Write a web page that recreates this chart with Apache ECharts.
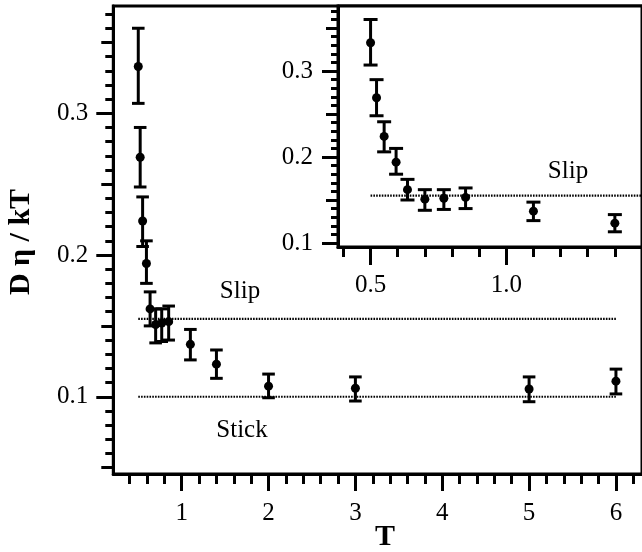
<!DOCTYPE html>
<html><head><meta charset="utf-8">
<script src="https://cdn.jsdelivr.net/npm/echarts@6/dist/echarts.min.js"></script>
<style>html,body{margin:0;padding:0;background:#fff}#c{width:642px;height:552px}</style>
</head><body><div id="c"></div>
<script>
// ---- data ----
const temperature = [0.5, 0.522, 0.55, 0.594, 0.636, 0.70, 0.77, 0.85, 1.10, 1.40, 2.0, 3.0, 5.0, 6.0];
const diffusion   = [0.333, 0.269, 0.224, 0.194, 0.162, 0.151, 0.152, 0.153, 0.137, 0.123, 0.1075, 0.106, 0.1055, 0.111];
const errLow      = [0.307, 0.248, 0.206, 0.180, 0.150, 0.138, 0.139, 0.140, 0.126, 0.113, 0.0993, 0.097, 0.0965, 0.102];
const errHigh     = [0.360, 0.290, 0.241, 0.210, 0.174, 0.162, 0.162, 0.164, 0.1475, 0.133, 0.116, 0.114, 0.114, 0.1195];
const slipLevel = 0.155;
const stickLevel = 0.1;
const mainRefT = [0.5, 6.0];
const insetRefT = [0.5, 1.5];
// ---- ticks ----
const mainXMajor = [1, 2, 3, 4, 5, 6];
const mainXMinor = [0.4, 0.6, 0.8, 1.2, 1.4, 1.6, 1.8, 2.2, 2.4, 2.6, 2.8, 3.2, 3.4, 3.6, 3.8, 4.2, 4.4, 4.6, 4.8, 5.2, 5.4, 5.6, 5.8, 6.2];
const mainYMajor = [0.1, 0.2, 0.3];
const mainYMedium = [0.05, 0.15, 0.25, 0.35];
const mainYMinor = [0.06, 0.07, 0.08, 0.09, 0.11, 0.12, 0.13, 0.14, 0.16, 0.17, 0.18, 0.19, 0.21, 0.22, 0.23, 0.24, 0.26, 0.27, 0.28, 0.29, 0.31, 0.32, 0.33, 0.34, 0.36, 0.37];
const insetXMajor = [0.5, 1.0];
const insetXMinor = [0.4, 0.6, 0.7, 0.8, 0.9, 1.1, 1.2, 1.3, 1.4];
const insetYMajor = [0.1, 0.2, 0.3];
const insetYMedium = [0.15, 0.25, 0.35];
const insetYMinor = [0.11, 0.12, 0.13, 0.14, 0.16, 0.17, 0.18, 0.19, 0.21, 0.22, 0.23, 0.24, 0.26, 0.27, 0.28, 0.29, 0.31, 0.32, 0.33, 0.34, 0.36, 0.37];
const mainXLabelDigits = 0, mainYLabelDigits = 1, insetXLabelDigits = 1, insetYLabelDigits = 1;

const mainXRange = [0.2125, 6.3];
const mainYRange = [0.0455, 0.3757];
const insetXRange = [0.38, 1.5];
const insetYRange = [0.0953, 0.3757];

const serif = '"Liberation Serif", "Times New Roman", serif';

function axis(gridIndex, range, ticks, len, labels, margin, digits, showLine) {
  return {
    type: 'value', gridIndex, min: range[0], max: range[1],
    axisLine: { show: showLine, onZero: false, lineStyle: { color: '#000', width: 3 } },
    axisTick: { show: true, inside: false, customValues: ticks, length: len, lineStyle: { color: '#000', width: 3 } },
    axisLabel: labels ? { show: true, customValues: labels, margin: margin, color: '#000', fontFamily: serif, fontSize: 25,
      formatter: v => Number(v).toFixed(digits) } : { show: false },
    splitLine: { show: false }
  };
}

const mainGrid = { left: 113.3, top: 6, width: 535.7, height: 468 };
const insetGrid = { left: 338, top: 6, width: 305.7, height: 241 };
const grids = [];
for (let i = 0; i < 3; i++) grids.push(Object.assign({}, mainGrid, i === 0 ? { show: true, borderColor: '#000', borderWidth: 3, backgroundColor: 'transparent' } : {}));
for (let i = 0; i < 3; i++) grids.push(Object.assign({}, insetGrid, i === 0 ? { show: true, borderColor: '#000', borderWidth: 3, backgroundColor: '#fff' } : {}));

const xAxes = [
  axis(0, mainXRange, mainXMajor, 17, mainXMajor, 27, mainXLabelDigits, true),
  axis(1, mainXRange, mainXMinor, 10, null, 0, 0, false),
  axis(2, mainXRange, [], 0, null, 0, 0, false),
  axis(3, insetXRange, insetXMajor, 18, insetXMajor, 26, insetXLabelDigits, true),
  axis(4, insetXRange, insetXMinor, 10, null, 0, 0, false),
  axis(5, insetXRange, [], 0, null, 0, 0, false)
];
const yAxes = [
  axis(0, mainYRange, mainYMajor, 17, mainYMajor, 25, mainYLabelDigits, true),
  axis(1, mainYRange, mainYMedium, 12, null, 0, 0, false),
  axis(2, mainYRange, mainYMinor, 8, null, 0, 0, false),
  axis(3, insetYRange, insetYMajor, 16, insetYMajor, 25, insetYLabelDigits, true),
  axis(4, insetYRange, insetYMedium, 12, null, 0, 0, false),
  axis(5, insetYRange, insetYMinor, 7, null, 0, 0, false)
];

function errorBarSeries(axisIdx, data, capHalf) {
  return {
    type: 'custom', xAxisIndex: axisIdx, yAxisIndex: axisIdx, data: data, encode: { x: 0, y: [1, 2] }, z: 3,
    renderItem: function (params, api) {
      const x = api.value(0);
      const pLo = api.coord([x, api.value(1)]);
      const pHi = api.coord([x, api.value(2)]);
      const st = { stroke: '#000', lineWidth: 3 };
      return { type: 'group', children: [
        { type: 'line', shape: { x1: pLo[0], y1: pLo[1], x2: pHi[0], y2: pHi[1] }, style: st },
        { type: 'line', shape: { x1: pLo[0] - capHalf, y1: pLo[1], x2: pLo[0] + capHalf, y2: pLo[1] }, style: st },
        { type: 'line', shape: { x1: pHi[0] - capHalf, y1: pHi[1], x2: pHi[0] + capHalf, y2: pHi[1] }, style: st }
      ]};
    }
  };
}
function pointSeries(axisIdx, data) {
  return { type: 'scatter', xAxisIndex: axisIdx, yAxisIndex: axisIdx, data: data, symbol: 'circle', symbolSize: 9,
    itemStyle: { color: '#000', opacity: 1 }, z: 4, silent: true };
}
function refLine(axisIdx, ts, level) {
  return { type: 'line', xAxisIndex: axisIdx, yAxisIndex: axisIdx, data: ts.map(t => [t, level]), showSymbol: false, symbol: 'none',
    lineStyle: { color: '#000', width: 2.2, type: [1.6, 1.2], opacity: 1 }, z: 2, silent: true, animation: false };
}

const mainPts = temperature.map((t, i) => [t, diffusion[i]]);
const mainErr = temperature.map((t, i) => [t, errLow[i], errHigh[i]]);
const insetIdx = temperature.map((t, i) => i).filter(i => temperature[i] <= insetXRange[1]);
const insetPts = insetIdx.map(i => [temperature[i], diffusion[i]]);
const insetErr = insetIdx.map(i => [temperature[i], errLow[i], errHigh[i]]);

const textStyle = (txt, size, weight) => ({ text: txt, fontFamily: serif, fontSize: size, fontWeight: weight, fill: '#000', textAlign: 'center', textVerticalAlign: 'middle' });

const chart = echarts.init(document.getElementById('c'), null, { renderer: 'canvas' });
chart.setOption({
  backgroundColor: '#fff',
  animation: false,
  grid: grids,
  xAxis: xAxes,
  yAxis: yAxes,
  series: [
    refLine(0, mainRefT, slipLevel),
    refLine(0, mainRefT, stickLevel),
    errorBarSeries(0, mainErr, 6.3),
    pointSeries(0, mainPts),
    refLine(3, insetRefT, slipLevel),
    errorBarSeries(3, insetErr, 7),
    pointSeries(3, insetPts)
  ],
  graphic: [
    { type: 'text', x: 240, y: 291.5, style: textStyle('Slip', 25, 'normal'), z: 10 },
    { type: 'text', x: 242, y: 430, style: textStyle('Stick', 25, 'normal'), z: 10 },
    { type: 'text', x: 568, y: 171, style: textStyle('Slip', 25, 'normal'), z: 10 },
    { type: 'text', x: 385, y: 537, style: textStyle('T', 30, 'bold'), z: 10 },
    { type: 'text', x: 21.5, y: 242, rotation: Math.PI / 2, style: textStyle('D η / kT', 30, 'bold'), z: 10 }
  ]
});
</script></body></html>
